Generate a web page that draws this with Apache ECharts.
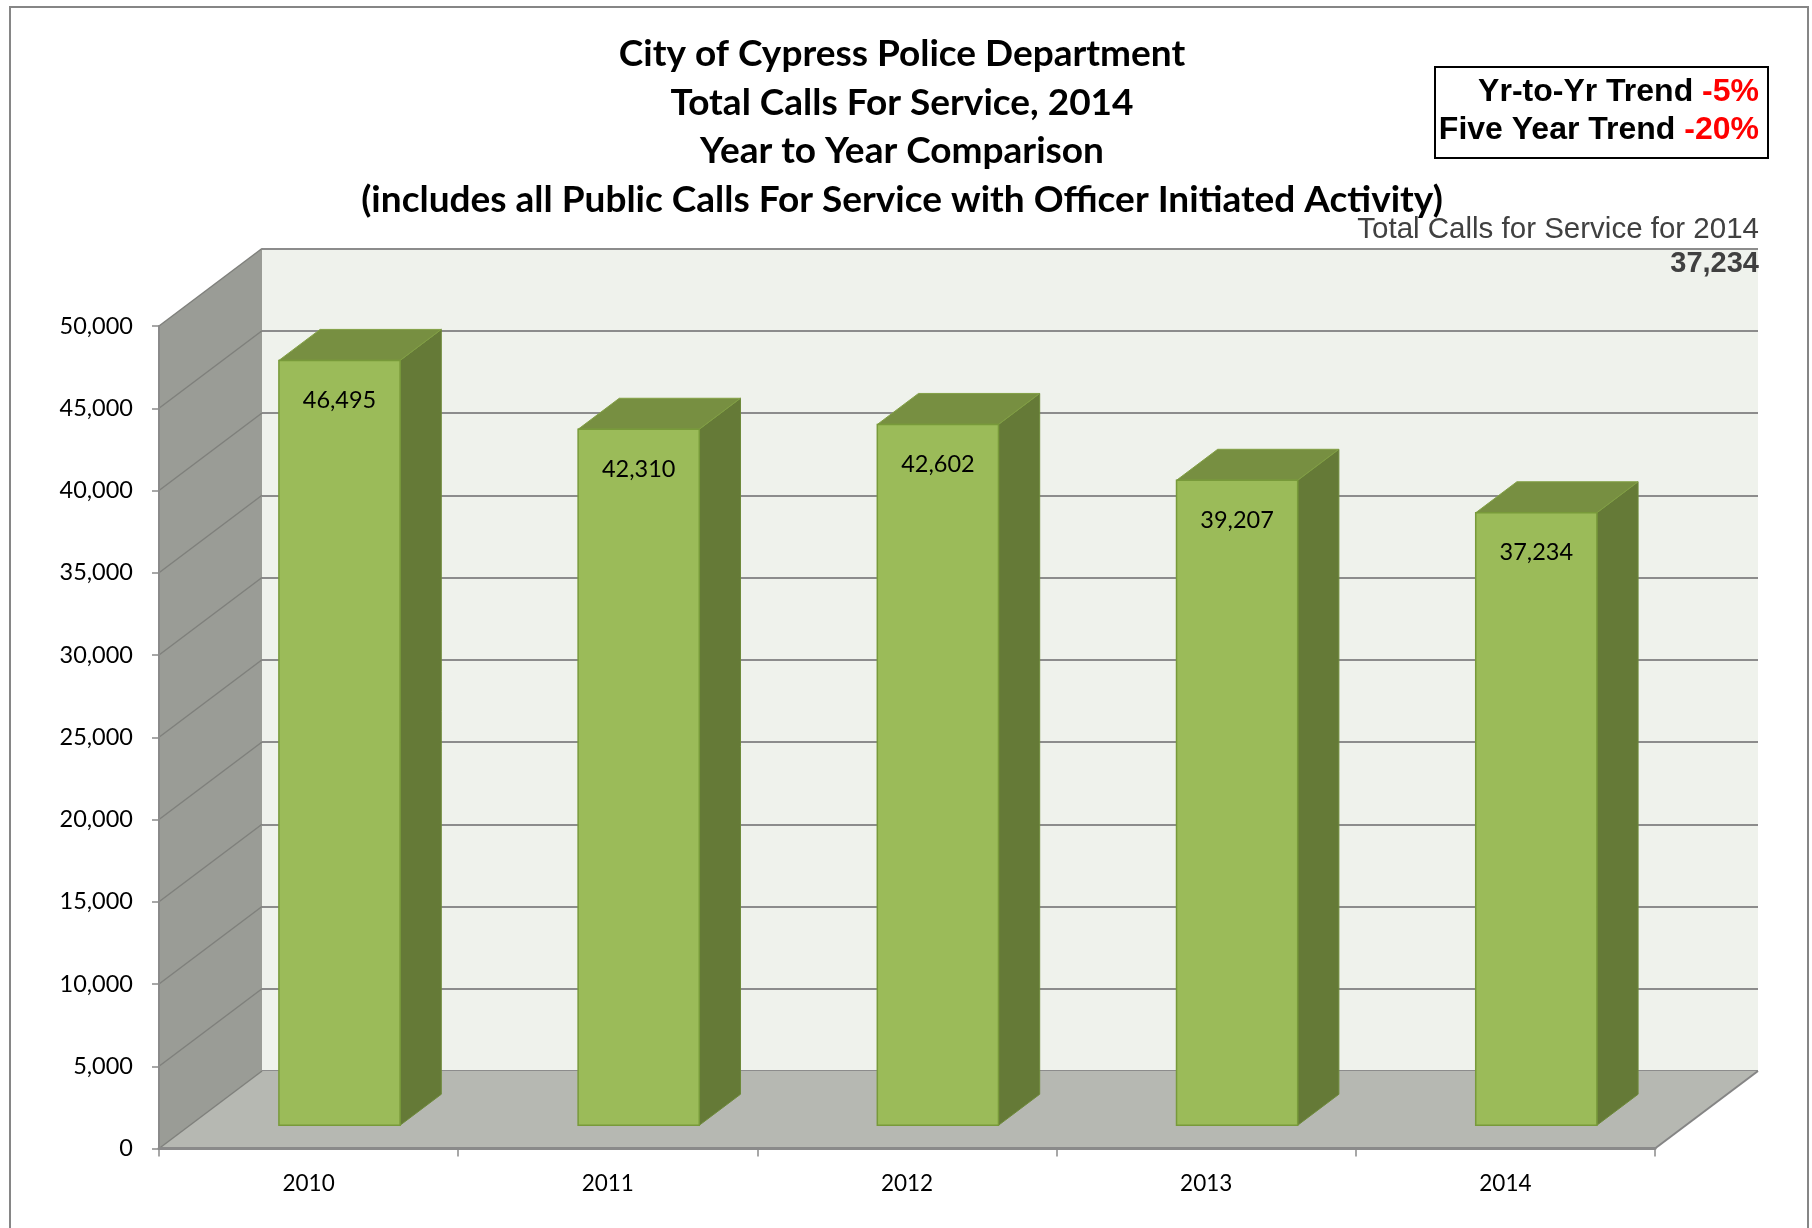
<!DOCTYPE html>
<html>
<head>
<meta charset="utf-8">
<script src="https://cdn.jsdelivr.net/npm/echarts@6/dist/echarts.min.js"></script>
<style>html,body{margin:0;padding:0;background:#fff}#c{width:1812px;height:1228px}</style>
</head>
<body>
<div id="c"></div>
<script>
// ---- data ----
const years = ['2010', '2011', '2012', '2013', '2014'];
const calls = [46495, 42310, 42602, 39207, 37234];
const yMin = 0, yMax = 50000, yStep = 5000;
const titleLines = [
  'City of Cypress Police Department',
  'Total Calls For Service, 2014',
  'Year to Year Comparison',
  '(includes all Public Calls For Service with Officer Initiated Activity)'
];
const trendYr = '-5%';
const trendFive = '-20%';
const totalLabel = 'Total Calls for Service for 2014';
const totalValue = '37,234';

// ---- layout / style ----
const DX = 103, DY = 77.5;
const FRONT = { left: 159, top: 326, width: 1496, height: 822.5 };
const BACK = { left: FRONT.left + DX, top: FRONT.top - DY, width: FRONT.width, height: FRONT.height };
const F0 = 0.30, F1 = 0.70, BARW = 0.405;
const LBL_FONT = 'Lato, "Open Sans", sans-serif';
const ARIAL = '"Liberation Sans", Arial, sans-serif';

const chart = echarts.init(document.getElementById('c'), null, { renderer: 'canvas' });

function fmt(v) { return v.toLocaleString('en-US'); }

const tickVals = [];
for (let v = yMin; v <= yMax; v += yStep) tickVals.push(v);

function renderWalls(params, api) {
  const cs = params.coordSys;
  const L = cs.x, R = cs.x + cs.width;
  const yTop = api.coord([0, yMax])[1];
  const yBot = api.coord([0, yMin])[1];
  const children = [];
  children.push({ type: 'polygon', shape: { points: [[L, yTop], [L + DX, yTop - DY], [L + DX, yBot - DY], [L, yBot]] },
    style: { fill: '#9A9C96' } });
  children.push({ type: 'polygon', shape: { points: [[L, yBot], [L + DX, yBot - DY], [R + DX, yBot - DY], [R, yBot]] },
    style: { fill: '#B6B8B2' } });
  tickVals.forEach(function (v) {
    const y = api.coord([0, v])[1];
    children.push({ type: 'line', shape: { x1: L, y1: y, x2: L + DX, y2: y - DY },
      style: { stroke: '#7F807C', lineWidth: 1.5 } });
  });
  children.push({ type: 'line', shape: { x1: R, y1: yBot, x2: R + DX, y2: yBot - DY },
    style: { stroke: '#858585', lineWidth: 2 } });
  return { type: 'group', children: children };
}

function renderBar(params, api) {
  const i = api.value(0), v = api.value(1);
  const p0 = api.coord([i, 0]);
  const p1 = api.coord([i, v]);
  const cw = api.size([1, 0])[0];
  const w = cw * BARW;
  const x0 = p0[0] - w / 2 + F0 * DX, x1 = x0 + w;
  const yb = p0[1] - F0 * DY, yt = p1[1] - F0 * DY;
  const ddx = (F1 - F0) * DX, ddy = (F1 - F0) * DY;
  const stroke = '#789A3A';
  return {
    type: 'group',
    children: [
      { type: 'polygon', shape: { points: [[x1, yt], [x1 + ddx, yt - ddy], [x1 + ddx, yb - ddy], [x1, yb]] },
        style: { fill: '#657A37', stroke: '#6E8A3A', lineWidth: 1 } },
      { type: 'polygon', shape: { points: [[x0, yt], [x0 + ddx, yt - ddy], [x1 + ddx, yt - ddy], [x1, yt]] },
        style: { fill: '#778F41', stroke: '#82A044', lineWidth: 1 } },
      { type: 'rect', shape: { x: x0, y: yt, width: w, height: yb - yt },
        style: { fill: '#9BBB59', stroke: stroke, lineWidth: 1.5 } },
      { type: 'text', x: x0 + w / 2, y: yt + 40,
        style: { text: fmt(v), fill: '#000', font: '23.5px ' + LBL_FONT, textAlign: 'center', textVerticalAlign: 'middle' } }
    ]
  };
}

const graphics = [];
graphics.push({ type: 'rect', shape: { x: 10, y: 7, width: 1798, height: 1240 },
  style: { fill: 'none', stroke: '#868686', lineWidth: 2 }, z: 100 });
const titleY = [54, 103, 151, 200];
titleLines.forEach(function (t, k) {
  graphics.push({ type: 'text', x: 902, y: titleY[k], z: 100,
    style: { text: t, fill: '#000', font: 'bold 37px Lato, "Open Sans", sans-serif', textAlign: 'center', textVerticalAlign: 'middle' } });
});
graphics.push({ type: 'rect', shape: { x: 1435, y: 67, width: 333, height: 91 },
  style: { fill: '#fff', stroke: '#000', lineWidth: 2 }, z: 100 });
graphics.push({ type: 'text', x: 1759, y: 92, z: 101,
  style: { text: '{k|Yr-to-Yr Trend }{r|' + trendYr + '}', textAlign: 'right', textVerticalAlign: 'middle',
    rich: { k: { fill: '#000', font: 'bold 32px ' + ARIAL },
            r: { fill: '#FF0000', font: 'bold 32px ' + ARIAL } } } });
graphics.push({ type: 'text', x: 1759, y: 130, z: 101,
  style: { text: '{k|Five Year Trend }{r|' + trendFive + '}', textAlign: 'right', textVerticalAlign: 'middle',
    rich: { k: { fill: '#000', font: 'bold 32px ' + ARIAL },
            r: { fill: '#FF0000', font: 'bold 32px ' + ARIAL } } } });
graphics.push({ type: 'text', x: 1759, y: 230, z: 101,
  style: { text: totalLabel, fill: '#404040', font: '29.5px ' + ARIAL, textAlign: 'right', textVerticalAlign: 'middle' } });
graphics.push({ type: 'text', x: 1759, y: 264, z: 101,
  style: { text: totalValue, fill: '#404040', font: 'bold 29px ' + ARIAL, textAlign: 'right', textVerticalAlign: 'middle' } });

const option = {
  animation: false,
  backgroundColor: '#fff',
  grid: [
    { left: FRONT.left, top: FRONT.top, width: FRONT.width, height: FRONT.height, containLabel: false },
    { left: BACK.left, top: BACK.top, width: BACK.width, height: BACK.height, show: true,
      backgroundColor: '#EFF2EC', borderWidth: 0 }
  ],
  xAxis: [
    { type: 'category', gridIndex: 0, data: years, z: 10,
      axisLine: { lineStyle: { color: '#8A8A8A', width: 3 } },
      axisTick: { show: true, length: 8, lineStyle: { color: '#8A8A8A', width: 1.5 } },
      axisLabel: { color: '#000', fontSize: 22.5, fontFamily: LBL_FONT, margin: 24 },
      splitLine: { show: false } },
    { type: 'category', gridIndex: 1, data: years, show: false }
  ],
  yAxis: [
    { type: 'value', gridIndex: 0, min: yMin, max: yMax, interval: yStep, z: 10,
      axisLine: { show: true, lineStyle: { color: '#8A8A8A', width: 2 } },
      axisTick: { show: true, inside: false, length: 7, lineStyle: { color: '#8A8A8A', width: 1.5 } },
      axisLabel: { color: '#000', fontSize: 23.5, fontFamily: LBL_FONT, margin: 26,
        formatter: function (v) { return fmt(v); } },
      splitLine: { show: false } },
    { type: 'value', gridIndex: 1, min: yMin, max: yMax, interval: yStep,
      axisLine: { show: false }, axisTick: { show: false }, axisLabel: { show: false },
      splitLine: { show: true, lineStyle: { color: '#8C8C8C', width: 2 } } }
  ],
  series: [
    { type: 'custom', name: 'walls', xAxisIndex: 0, yAxisIndex: 0, z: 1, silent: true,
      renderItem: renderWalls, data: [[0, 0]] },
    { type: 'custom', name: 'Calls', xAxisIndex: 0, yAxisIndex: 0, z: 3,
      renderItem: renderBar, encode: { x: 0, y: 1 },
      data: calls.map(function (v, i) { return [i, v]; }) }
  ],
  graphic: graphics
};
chart.setOption(option);
</script>
</body>
</html>
